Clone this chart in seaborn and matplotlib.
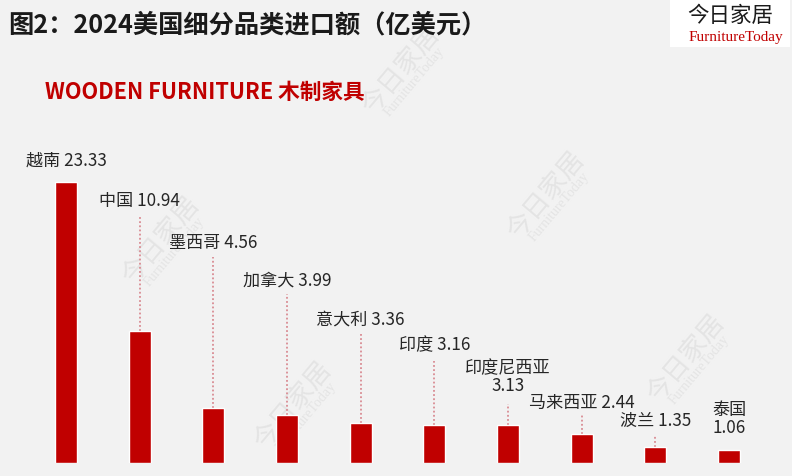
import matplotlib
matplotlib.use("Agg")
import matplotlib.pyplot as plt
import seaborn as sns
import pandas as pd

# ---- data ----
countries = ["越南", "中国", "墨西哥", "加拿大", "意大利", "印度", "印度尼西亚", "马来西亚", "波兰", "泰国"]
values = [23.33, 10.94, 4.56, 3.99, 3.36, 3.16, 3.13, 2.44, 1.35, 1.06]
title = "图2：2024美国细分品类进口额（亿美元）"
subtitle = "WOODEN FURNITURE 木制家具"

# ---- layout (label centre heights and leader-line tops, in data units) ----
label_y = [25.2, 21.8, 18.3, 15.2, 12.0, 9.9, 7.2, 5.1, 3.6, 3.7]
line_top = [None, 20.4, 17.1, 14.0, 10.7, 8.5, 4.9, 4.0, 2.2, None]
wrap = [False, False, False, False, False, False, True, False, False, True]

W, H = 792, 477
BG = "#f2f2f2"
RED = "#c00000"

sns.set_theme(style="white")
plt.rcParams["font.family"] = ["Noto Sans CJK SC", "DejaVu Sans"]

fig = plt.figure(figsize=(W / 100, H / 100), dpi=100, facecolor=BG)

# watermarks (behind everything)
wm = [(400, 70), (545, 195), (160, 240), (292, 405), (685, 358)]
for (px, py) in wm:
    fig.text(px / W, 1 - py / H, "今日家居", fontsize=19, color="#e4e4e4",
             rotation=50, ha="center", va="center", zorder=-2)
    fig.text((px + 14) / W, 1 - (py + 12) / H, "FurnitureToday", fontsize=10,
             family="Liberation Serif", color="#e4e4e4",
             rotation=50, ha="center", va="center", zorder=-2)

ax = fig.add_axes([0, 13 / H, 1, 464 / H])
ax.set_zorder(1)
ax.set_facecolor("none")
df = pd.DataFrame({"country": countries, "value": values})
sns.barplot(data=df, x="country", y="value", order=countries, color=RED,
            saturation=1, width=0.3, ax=ax, zorder=3)
ax.set_xlim(-0.896, 9.855)
ax.set_ylim(0, 38.5)
ax.axis("off")

for i, (c, v) in enumerate(zip(countries, values)):
    sep = "\n" if wrap[i] else " "
    ax.text(i, label_y[i], f"{c}{sep}{v:.2f}", ha="center", va="center",
            fontsize=12.3, color="#262626", linespacing=1.0, zorder=4)
    if line_top[i] is not None:
        ax.plot([i, i], [v, line_top[i]], color="#d98c93", lw=1.3,
                linestyle=(0, (1, 1.3)), zorder=2)

# title and subtitle
fig.text(8 / W, 1 - 25 / H, title, fontsize=18.2, fontweight="bold",
         color="#1a1a1a", ha="left", va="center", zorder=2)
fig.text(45 / W, 1 - 92 / H, subtitle, fontsize=15.6, fontweight="bold",
         color=RED, ha="left", va="center", zorder=2)

# logo box
logo = plt.Rectangle((670 / W, 1 - 48 / H), 120 / W, 48 / H, transform=fig.transFigure,
                     facecolor="white", edgecolor="none", zorder=5)
fig.patches.append(logo)
fig.text(730 / W, 1 - 16 / H, "今日家居", fontsize=15.5, color="#1a1a1a",
         ha="center", va="center", zorder=6)
fig.text(736 / W, 1 - 38 / H, "FurnitureToday", fontsize=11, color=RED,
         family="Liberation Serif", ha="center", va="center", zorder=6)

fig.savefig("out.png", dpi=100, facecolor=BG)
